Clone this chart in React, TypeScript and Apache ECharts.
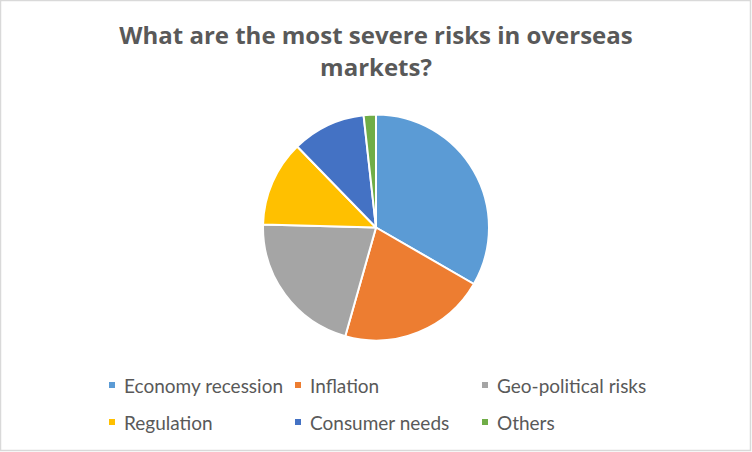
import React, { useEffect, useRef } from "react";
import * as echarts from "echarts";

const titleLines = ["What are the most severe risks in overseas", "markets?"];
const categories = [
  "Economy recession",
  "Inflation",
  "Geo-political risks",
  "Regulation",
  "Consumer needs",
  "Others",
];
const values = [19, 12, 12, 7, 6, 1];
const colors = ["#5B9BD5", "#ED7D31", "#A5A5A5", "#FFC000", "#4472C4", "#70AD47"];

const legendCols = [107, 293, 480];
const legendRows = [375, 412];

export default function App() {
  const ref = useRef<HTMLDivElement>(null);
  useEffect(() => {
    document.body.style.margin = "0";
    if (!ref.current) return;
    const chart = echarts.init(ref.current, undefined, { renderer: "svg" });
    const font = "Lato, 'Open Sans', sans-serif";
    const legends = categories.map((name, i) => ({
      data: [name],
      left: legendCols[i % 3],
      top: legendRows[Math.floor(i / 3)],
      padding: 0,
      icon: "rect",
      itemWidth: 8,
      itemHeight: 8,
      selectedMode: false,
      textStyle: {
        color: "#595959",
        fontSize: 19,
        fontFamily: font,
        lineHeight: 20,
        padding: [0, 0, 0, 3],
      },
    }));
    chart.setOption({
      animation: false,
      backgroundColor: "#ffffff",
      title: {
        text: titleLines.join("\n"),
        left: 376,
        top: 18,
        textAlign: "center",
        padding: 0,
        textStyle: {
          color: "#595959",
          fontSize: 24,
          fontWeight: "bold",
          fontFamily: "'Open Sans', sans-serif",
          lineHeight: 32,
        },
      },
      legend: legends,
      graphic: [
        {
          type: "rect",
          shape: { x: 0.5, y: 0.5, width: 750, height: 450 },
          style: { fill: "none", stroke: "#D9D9D9", lineWidth: 1.5 },
          silent: true,
        },
      ],
      series: [
        {
          type: "pie",
          center: [376, 227.5],
          radius: [0, 113],
          startAngle: 90,
          clockwise: true,
          label: { show: false },
          labelLine: { show: false },
          itemStyle: { borderColor: "#ffffff", borderWidth: 2 },
          emphasis: { disabled: true },
          data: categories.map((name, i) => ({
            name,
            value: values[i],
            itemStyle: { color: colors[i] },
          })),
        },
      ],
    });
    return () => chart.dispose();
  }, []);
  return <div ref={ref} style={{ width: 752, height: 452 }} />;
}
